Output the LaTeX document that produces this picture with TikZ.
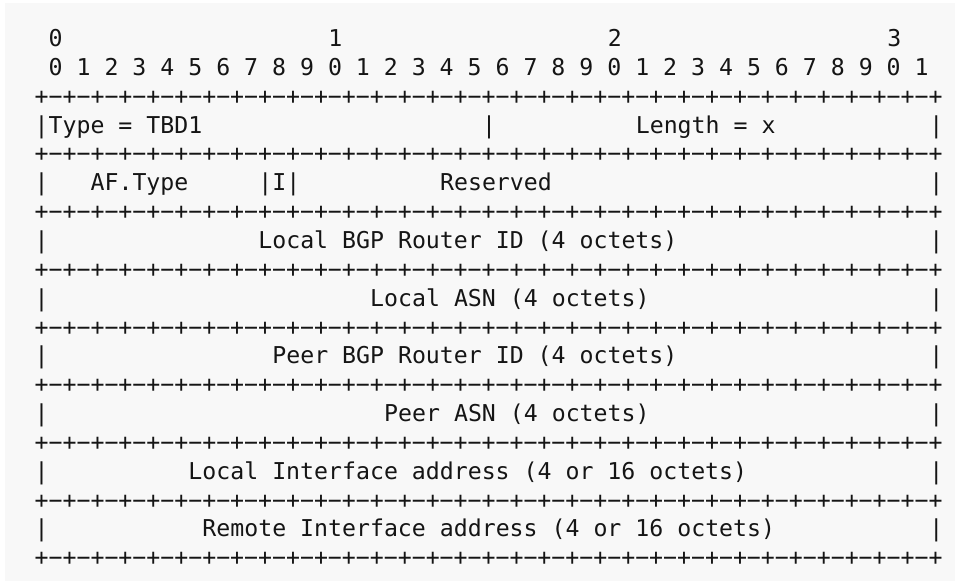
\documentclass[tikz,border=0pt]{standalone}
\usepackage{fontspec}
\newfontfamily\rfcmono{DejaVu Sans Mono}
\usepackage{tikz}
\definecolor{paper}{HTML}{F8F8F8}
\definecolor{ink}{HTML}{151515}
\newcommand{\octetrule}{+−+−+−+−+−+−+−+−}
\newcommand{\fieldrule}{\octetrule\octetrule\octetrule\octetrule+}
\tikzset{
  mono/.style={inner sep=0pt, outer sep=0pt, anchor=base west, text=ink,
    font={\rfcmono\fontsize{23.2pt}{28pt}\selectfont}}
}
\begin{document}
\begin{tikzpicture}[x=13.98pt, y=-28.85pt]
    \useasboundingbox (-2.482,-1.612) rectangle (65.83,18.631);
    \fill[paper] (-2.124,-1.508) rectangle (65.83,18.527);
    % bit numbers
    \node (tens0) [mono] at (1,0)  {0};
    \node (tens1) [mono] at (21,0) {1};
    \node (tens2) [mono] at (41,0) {2};
    \node (tens3) [mono] at (61,0) {3};
    \node (bits)  [mono] at (1,1)  {0 1 2 3 4 5 6 7 8 9 0 1 2 3 4 5 6 7 8 9 0 1 2 3 4 5 6 7 8 9 0 1};
    % rules
    \foreach \r in {0,...,8}
        \node (rule\r) [mono] at (0,{2+2*\r}) {\fieldrule};
    % fields
    \node (typeF)   [mono] at (0,3)   {|Type = TBD1};
    \node (midbar)  [mono] at (32,3)  {|};
    \node (lengthF) [mono] at (43,3)  {Length = x};
    \node (afF)     [mono] at (4,5)   {AF.Type};
    \node (iF)      [mono] at (16,5)  {|I|};
    \node (resF)    [mono] at (29,5)  {Reserved};
    \node (lbgpF)   [mono] at (16,7)  {Local BGP Router ID (4 octets)};
    \node (lasnF)   [mono] at (24,9)  {Local ASN (4 octets)};
    \node (pbgpF)   [mono] at (17,11) {Peer BGP Router ID (4 octets)};
    \node (pasnF)   [mono] at (25,13) {Peer ASN (4 octets)};
    \node (lifF)    [mono] at (11,15) {Local Interface address (4 or 16 octets)};
    \node (rifF)    [mono] at (12,17) {Remote Interface address (4 or 16 octets)};
    % side bars
    \foreach \r in {1,...,7}
        \node (lbar\r) [mono] at (0,{3+2*\r}) {|};
    \foreach \r in {0,...,7}
        \node (rbar\r) [mono] at (64,{3+2*\r}) {|};
\end{tikzpicture}
\end{document}
